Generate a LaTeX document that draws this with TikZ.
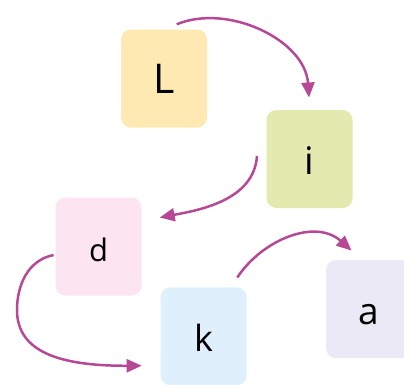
\documentclass[tikz,border=0pt]{standalone}
\usepackage{fontspec}
\setmainfont{Open Sans}
\usetikzlibrary{arrows.meta}
\definecolor{arrowc}{RGB}{183,72,150}
\definecolor{cL}{RGB}{255,233,179}
\definecolor{ci}{RGB}{227,233,175}
\definecolor{cd}{RGB}{252,228,240}
\definecolor{ck}{RGB}{223,240,252}
\definecolor{ca}{RGB}{236,233,246}
\tikzset{
  letterbox/.style={rounded corners=10pt, minimum width=86pt, minimum height=98pt, inner sep=0pt, text=black, text height=30pt, text depth=0pt},
  flow/.style={draw=arrowc, line width=2.5pt, -{Triangle[length=15pt,width=13pt]}},
}
\begin{document}
\begin{tikzpicture}[x=1pt,y=-1pt]
\useasboundingbox (0,0) rectangle (404,384);
\node[letterbox, fill=cL, font=\fontsize{41}{41}\selectfont] (L) at (164,78.5) {L};
\node[letterbox, fill=ci, font=\fontsize{38}{38}\selectfont] (i) at (309.5,159) {i};
\node[letterbox, fill=cd, font=\fontsize{31}{31}\selectfont] (d) at (98.5,246.5) {d};
\node[letterbox, fill=ck, font=\fontsize{36}{36}\selectfont] (k) at (203.5,336.3) {k};
\node[letterbox, fill=ca, font=\fontsize{37}{37}\selectfont] (a) at (369,309) {a};
\draw[flow] ([shift={(12.7,-5)}]L.north) .. controls (228,3) and (305,40) .. ([shift={(-0.5,-12.3)}]i.north);
\draw[flow] ([shift={(-9.3,-3)}]i.west) .. controls (254,200) and (200,210) .. ([shift={(18,-29)}]d.east);
\draw[flow] ([shift={(-1.7,8.5)}]d.west) .. controls (28,260) and (17,285) .. (17,310) .. controls (17,352) and (60,366) .. ([shift={(-18.6,29.4)}]k.west);
\draw[flow] ([shift={(-9.4,-9.6)}]k.north east) .. controls (262,240) and (315,218) .. ([shift={(25.7,-9.3)}]a.north west);
\end{tikzpicture}
\end{document}
